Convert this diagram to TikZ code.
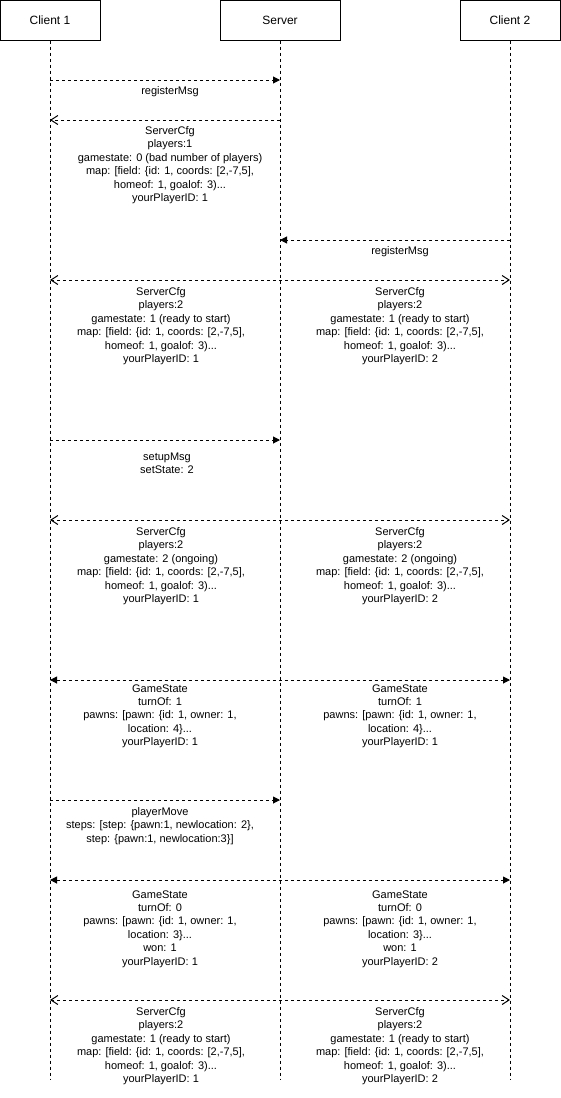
\documentclass[tikz,border=0pt]{standalone}
\usepackage{fontspec}
\setmainfont{Liberation Sans}
\usetikzlibrary{arrows.meta}
\begin{document}
\begin{tikzpicture}[x=1pt,y=-1pt,
  actor/.style={draw,line width=1pt,minimum width=100pt,minimum height=40pt,inner sep=0pt,font=\fontsize{12}{14}\selectfont},
  lifeline/.style={line width=1pt,dash pattern=on 3pt off 3pt},
  msg/.style={line width=1pt,dash pattern=on 3pt off 3pt},
  fill tip/.style={-{Triangle[length=7pt,width=7pt]}},
  open tip/.style={-{Straight Barb[length=7pt,width=9pt,line width=1pt]}},
  both fill/.style={{Triangle[length=7pt,width=7pt]}-{Triangle[length=7pt,width=7pt]}},
  both open/.style={{Straight Barb[length=7pt,width=9pt,line width=1pt]}-{Straight Barb[length=7pt,width=9pt,line width=1pt]}},
  lbl/.style={anchor=north,align=center,inner sep=0pt,font=\fontsize{11}{13.4}\selectfont}]
\useasboundingbox (0,0) rectangle (561,1098);

% actors
\node[actor] (c1) at (50,20) {Client 1};
\node[actor,minimum width=120pt] (sv) at (280,20) {Server};
\node[actor] (c2) at (510,20) {Client 2};

% lifeline ends
\coordinate (c1end) at (50,1080);
\coordinate (svend) at (280,1080);
\coordinate (c2end) at (510,1080);
\draw[lifeline] (c1.south) -- (c1end);
\draw[lifeline] (sv.south) -- (svend);
\draw[lifeline] (c2.south) -- (c2end);

% message points
\foreach \y in {80,120,240,280,440,520,680,800,880,1000}{
  \coordinate (a\y) at (50,\y);
  \coordinate (s\y) at (280,\y);
  \coordinate (b\y) at (510,\y);
}

% 1 registerMsg
\draw[msg,fill tip] (a80) -- (s80);
\node[lbl] (l1) at (170,86.3) {registerMsg};

% 2 ServerCfg to client 1
\draw[msg,open tip] (s120) -- (a120);
\node[lbl] (l2) at (170,126.3) {ServerCfg\\players:1\\gamestate: 0 (bad number of players)\\map: [field: \{id: 1, coords: [2,-7,5],\\homeof: 1, goalof: 3)...\\yourPlayerID: 1};

% 3 registerMsg from client 2
\draw[msg,fill tip] (b240) -- (s240);
\node[lbl] (l3) at (400,246.3) {registerMsg};

% 4 ServerCfg broadcast
\draw[msg,both open] (a280) -- (b280);
\node[lbl] (l4a) at (161,287.3) {ServerCfg\\players:2\\gamestate: 1 (ready to start)\\map: [field: \{id: 1, coords: [2,-7,5],\\homeof: 1, goalof: 3)...\\yourPlayerID: 1};
\node[lbl] (l4b) at (400,287.3) {ServerCfg\\players:2\\gamestate: 1 (ready to start)\\map: [field: \{id: 1, coords: [2,-7,5],\\homeof: 1, goalof: 3)...\\yourPlayerID: 2};

% 5 setupMsg
\draw[msg,fill tip] (a440) -- (s440);
\node[lbl] (l5) at (167,452.3) {setupMsg\\setState: 2};

% 6 ServerCfg ongoing
\draw[msg,both open] (a520) -- (b520);
\node[lbl] (l6a) at (161,527.3) {ServerCfg\\players:2\\gamestate: 2 (ongoing)\\map: [field: \{id: 1, coords: [2,-7,5],\\homeof: 1, goalof: 3)...\\yourPlayerID: 1};
\node[lbl] (l6b) at (400,527.3) {ServerCfg\\players:2\\gamestate: 2 (ongoing)\\map: [field: \{id: 1, coords: [2,-7,5],\\homeof: 1, goalof: 3)...\\yourPlayerID: 2};

% 7 GameState
\draw[msg,both fill] (a680) -- (b680);
\node[lbl] (l7a) at (160,684.3) {GameState\\turnOf: 1\\pawns: [pawn: \{id: 1, owner: 1,\\location: 4\}...\\yourPlayerID: 1};
\node[lbl] (l7b) at (400,684.3) {GameState\\turnOf: 1\\pawns: [pawn: \{id: 1, owner: 1,\\location: 4\}...\\yourPlayerID: 1};

% 8 playerMove
\draw[msg,fill tip] (a800) -- (s800);
\node[lbl] (l8) at (160,807.3) {playerMove\\steps: [step: \{pawn:1, newlocation: 2\},\\step: \{pawn:1, newlocation:3\}]};

% 9 GameState won
\draw[msg,both fill] (a880) -- (b880);
\node[lbl] (l9a) at (160,890.3) {GameState\\turnOf: 0\\pawns: [pawn: \{id: 1, owner: 1,\\location: 3\}...\\won: 1\\yourPlayerID: 1};
\node[lbl] (l9b) at (400,890.3) {GameState\\turnOf: 0\\pawns: [pawn: \{id: 1, owner: 1,\\location: 3\}...\\won: 1\\yourPlayerID: 2};

% 10 ServerCfg reset
\draw[msg,both open] (a1000) -- (b1000);
\node[lbl] (l10a) at (161,1007.3) {ServerCfg\\players:2\\gamestate: 1 (ready to start)\\map: [field: \{id: 1, coords: [2,-7,5],\\homeof: 1, goalof: 3)...\\yourPlayerID: 1};
\node[lbl] (l10b) at (400,1007.3) {ServerCfg\\players:2\\gamestate: 1 (ready to start)\\map: [field: \{id: 1, coords: [2,-7,5],\\homeof: 1, goalof: 3)...\\yourPlayerID: 2};
\end{tikzpicture}
\end{document}
